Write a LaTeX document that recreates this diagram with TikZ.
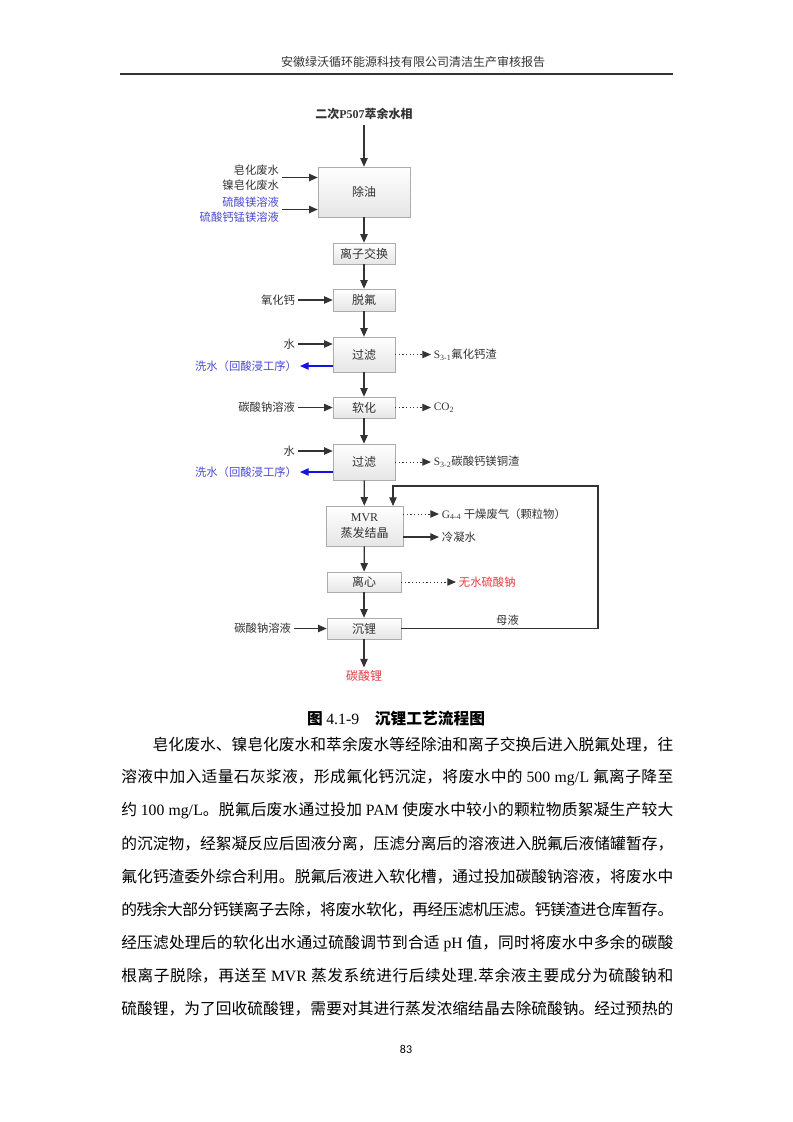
\documentclass[tikz,border=0pt]{standalone}
\usepackage{fontspec}
\setmainfont{Noto Sans CJK SC}
\newfontfamily\tnr{Liberation Serif}
\newfontfamily\pagefont{Carlito}
\usetikzlibrary{
  positioning,
  arrows.meta,
  calc,
  shadows
}
\definecolor{ink}{HTML}{333333}
\definecolor{inblue}{HTML}{4A4AD6}
\definecolor{washblue}{HTML}{1414E0}
\definecolor{outred}{HTML}{E83A3F}
\XeTeXlinebreaklocale "zh"
\XeTeXlinebreakskip=0pt plus 1pt minus 0.5pt

\begin{document}
\begin{tikzpicture}[
  x=0.75pt, y=-0.75pt,
  box/.style={draw=gray!65, top color=white, bottom color=gray!20, inner sep=0pt,
              font=\fontsize{9}{11.5}\selectfont, text=ink, align=center,
              drop shadow={shadow xshift=0.8pt, shadow yshift=-0.8pt, opacity=0.35}},
  lab/.style={font=\fontsize{8.5}{11.25}\selectfont, text=ink, inner sep=2pt},
  arr/.style={-{Triangle[length=6.5pt, width=5.5pt]}, line width=0.95pt, draw=ink},
  dot/.style={-{Triangle[length=6.5pt, width=5.5pt]}, line width=0.75pt, draw=ink,
              dash pattern=on 0.9pt off 1.8pt},
  bodyline/.style={anchor=west, inner sep=0pt, text width=414pt, align=justify,
                   font=\fontsize{11.8}{14}\selectfont,
                   execute at begin node={\parfillskip=0pt\relax}}
]
  \useasboundingbox (0,0) rectangle (793,1122);

  % Page header
  \node[font=\fontsize{9}{11}\selectfont, text=ink] (header) at (413,62)
    {安徽绿沃循环能源科技有限公司清洁生产审核报告};
  \draw[line width=1pt, ink] (120,74) -- (673,74);

  % Process boxes
  \node[font=\fontsize{9}{11}\selectfont\bfseries, text=ink] (feed) at (364,114)
    {二次{\tnr P507}萃余水相};
  \node[box, minimum width=69pt, minimum height=37.5pt] (oil) at (364,192) {除油};
  \node[box, minimum width=46.5pt, minimum height=15.75pt] (ionex) at (364,253.5) {离子交换};
  \node[box, minimum width=46.5pt, minimum height=16.5pt] (defl) at (364,300) {脱氟};
  \node[box, minimum width=46.5pt, minimum height=26.25pt] (filta) at (364,354.5) {过滤};
  \node[box, minimum width=46.5pt, minimum height=15.75pt] (soft) at (364,407.5) {软化};
  \node[box, minimum width=46.5pt, minimum height=27pt] (filtb) at (364,462) {过滤};
  \node[box, minimum width=57.75pt, minimum height=30pt] (mvr) at (364.5,526)
    {{\tnr MVR}\\蒸发结晶};
  \node[box, minimum width=55.5pt, minimum height=15pt] (cent) at (364,582) {离心};
  \node[box, minimum width=55.5pt, minimum height=15.75pt] (prec) at (364,628.5) {沉锂};
  \node[lab, text=outred, font=\fontsize{9}{11}\selectfont] (li2co3) at (364,676) {碳酸锂};

  % Main flow
  \draw[arr] (feed) -- (oil);
  \draw[arr] (oil) -- (ionex);
  \draw[arr] (ionex) -- (defl);
  \draw[arr] (defl) -- (filta);
  \draw[arr] (filta) -- (soft);
  \draw[arr] (soft) -- (filtb);
  \draw[arr] (filtb) -- (mvr);
  \draw[arr] (mvr) -- (cent);
  \draw[arr] (cent) -- (prec);
  \draw[arr] (prec) -- (li2co3);

  % Inputs
  \node[lab, anchor=east, align=right] (soapin) at (282,177.5) {皂化废水\\镍皂化废水};
  \node[lab, anchor=east, align=right, text=inblue] (sulfin) at (282,209.5)
    {硫酸镁溶液\\硫酸钙锰镁溶液};
  \node[lab, anchor=east] (cao) at (298,300) {氧化钙};
  \node[lab, anchor=east] (watera) at (298,344) {水};
  \node[lab, anchor=east] (naa) at (298,407.5) {碳酸钠溶液};
  \node[lab, anchor=east] (waterb) at (298,451) {水};
  \node[lab, anchor=east] (nab) at (294,628.5) {碳酸钠溶液};
  \draw[arr] (soapin) -- (soapin -| oil.west);
  \draw[arr] (sulfin) -- (sulfin -| oil.west);
  \draw[arr] (cao) -- (defl);
  \draw[arr] (watera) -- (watera -| filta.west);
  \draw[arr] (naa) -- (soft);
  \draw[arr] (waterb) -- (waterb -| filtb.west);
  \draw[arr] (nab) -- (prec);

  % Wash water back to leaching
  \node[lab, anchor=east, text=inblue] (washa) at (300,366) {洗水（回酸浸工序）};
  \node[lab, anchor=east, text=inblue] (washb) at (300,472) {洗水（回酸浸工序）};
  \draw[arr, draw=washblue] (filta.west |- washa) -- (washa);
  \draw[arr, draw=washblue] (filtb.west |- washb) -- (washb);

  % Outputs
  \node[lab, anchor=west] (resa) at (431,354.5) {{\tnr S\textsubscript{3-1}}氟化钙渣};
  \node[lab, anchor=west] (co2) at (431,407.5) {{\tnr CO\textsubscript{2}}};
  \node[lab, anchor=west] (resb) at (431,462) {{\tnr S\textsubscript{3-2}}碳酸钙镁铜渣};
  \node[lab, anchor=west] (gas) at (439,514) {{\tnr G\textsubscript{4-4}} 干燥废气（颗粒物）};
  \node[lab, anchor=west] (cond) at (439,537) {冷凝水};
  \node[lab, anchor=west, text=outred] (na2so4) at (456,582) {无水硫酸钠};
  \draw[dot] (filta) -- (resa);
  \draw[dot] (soft) -- (co2);
  \draw[dot] (filtb) -- (resb);
  \draw[dot] (mvr.east |- gas) -- (gas);
  \draw[arr] (mvr.east |- cond) -- (cond);
  \draw[dot] (cent) -- (na2so4);

  % Mother liquor return
  \coordinate (ret) at (598,486);
  \coordinate (retin) at (393,506);
  \draw[arr] (prec.east) -| node[lab, pos=0.27, above] (mother) {母液} (ret) -| (retin);

  % Caption and text
  \node[font=\fontsize{11.8}{14}\selectfont\bfseries] (caption) at (396,719)
    {图 {\tnr\mdseries 4.1-9}\quad 沉锂工艺流程图};
  \node[bodyline] (pa) at (121,745) {\hspace*{23.6pt}皂化废水、镍皂化废水和萃余废水等经除油和离子交换后进入脱氟处理，往};
  \node[bodyline] (pb) at (121,778) {溶液中加入适量石灰浆液，形成氟化钙沉淀，将废水中的 {\tnr 500 mg/L} 氟离子降至};
  \node[bodyline] (pc) at (121,811) {约 {\tnr 100 mg/L}。脱氟后废水通过投加 {\tnr PAM} 使废水中较小的颗粒物质絮凝生产较大};
  \node[bodyline] (pd) at (121,844) {的沉淀物，经絮凝反应后固液分离，压滤分离后的溶液进入脱氟后液储罐暂存，};
  \node[bodyline] (pe) at (121,877) {氟化钙渣委外综合利用。脱氟后液进入软化槽，通过投加碳酸钠溶液，将废水中};
  \node[bodyline] (pf) at (121,910) {的残余大部分钙镁离子去除，将废水软化，再经压滤机压滤。钙镁渣进仓库暂存。};
  \node[bodyline] (pg) at (121,943) {经压滤处理后的软化出水通过硫酸调节到合适 {\tnr pH} 值，同时将废水中多余的碳酸};
  \node[bodyline] (ph) at (121,976) {根离子脱除，再送至 {\tnr MVR} 蒸发系统进行后续处理.萃余液主要成分为硫酸钠和};
  \node[bodyline] (pi) at (121,1009) {硫酸锂，为了回收硫酸锂，需要对其进行蒸发浓缩结晶去除硫酸钠。经过预热的};

  % Page number
  \node[font=\pagefont\fontsize{9}{11}\selectfont] (pageno) at (406,1049) {83};
\end{tikzpicture}
\end{document}
